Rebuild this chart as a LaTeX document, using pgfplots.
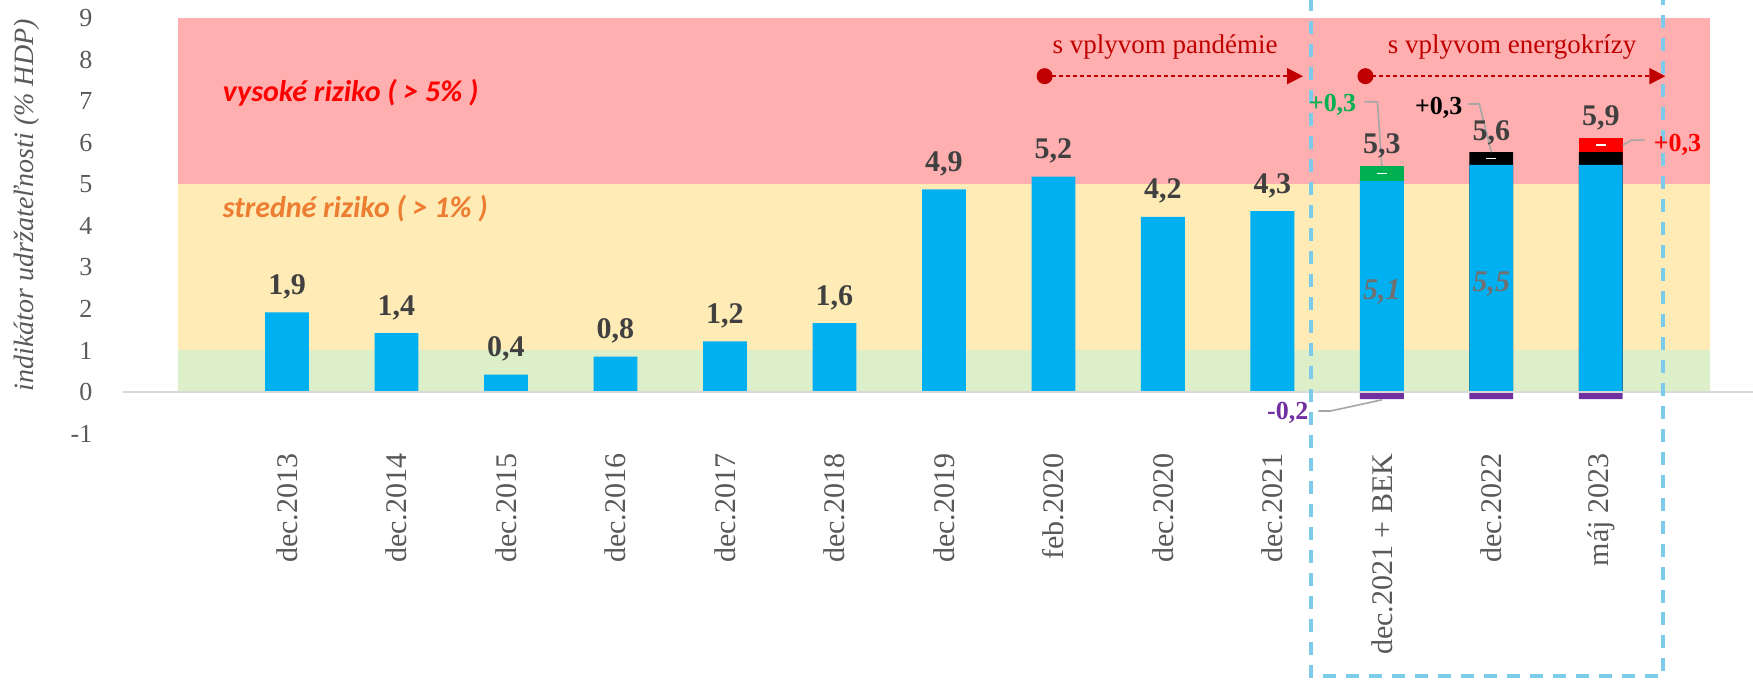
\documentclass[border=0pt]{standalone}
\usepackage{fontspec}
\setmainfont{Liberation Serif}
\newfontfamily\calibri{Carlito}
\usepackage{pgfplots}
\pgfplotsset{compat=1.18}
\usepackage{pgfplotstable}
\usetikzlibrary{arrows.meta}

\definecolor{bandred}{HTML}{FFAFAF}
\definecolor{bandyellow}{HTML}{FFEBB5}
\definecolor{bandgreen}{HTML}{DDEFC9}
\definecolor{barblue}{HTML}{00B0F0}
\definecolor{segpurple}{HTML}{7030A0}
\definecolor{seggreen}{HTML}{00B050}
\definecolor{segred}{HTML}{FF0000}
\definecolor{darkred}{HTML}{C00000}
\definecolor{lblgray}{HTML}{404040}
\definecolor{tickgray}{HTML}{595959}
\definecolor{innergray}{HTML}{707070}
\definecolor{boxblue}{HTML}{7CCBEB}
\definecolor{leadergray}{HTML}{A6A6A6}
\definecolor{orangetext}{HTML}{ED7D31}
\definecolor{zeroline}{HTML}{D9D9D9}

% blue base bars
\pgfplotstableread{
x y
0 1.92
1 1.42
2 0.42
3 0.85
4 1.22
5 1.66
6 4.88
7 5.19
8 4.22
9 4.36
10 5.08
11 5.47
12 5.47
}\bluebars

% labels above single bars
\pgfplotstableread{
x y label
0 1.92 1,9
1 1.42 1,4
2 0.42 0,4
3 0.85 0,8
4 1.22 1,2
5 1.66 1,6
6 4.88 4,9
7 5.19 5,2
8 4.22 4,2
9 4.36 4,3
}\labelsA

% totals of stacked bars
\pgfplotstableread{
x y label
10 5.45 5,3
11 5.78 5,6
12 6.12 5,9
}\labelsB

\begin{document}
\begin{tikzpicture}
\begin{axis}[
  scale only axis,
  width=815.2pt, height=207.5pt,
  xmin=-1.5, xmax=13.39, ymin=-1, ymax=9,
  axis x line*=bottom, axis y line*=left,
  axis line style={draw=none},
  tick style={draw=none},
  clip=false,
  /pgf/number format/assume math mode=true,
  xtick={0,...,12},
  xticklabels={dec.2013,dec.2014,dec.2015,dec.2016,dec.2017,dec.2018,dec.2019,feb.2020,dec.2020,dec.2021,{dec.2021 + BEK},dec.2022,máj 2023},
  xticklabel style={rotate=90, anchor=east, inner sep=0pt, text=tickgray, font=\fontsize{15}{18}\selectfont},
  xticklabel shift=10pt,
  ytick={-1,0,1,2,3,4,5,6,7,8,9},
  yticklabel style={anchor=east, inner sep=0pt, text=tickgray, font=\fontsize{13}{15}\selectfont},
  yticklabel shift=15pt,
  ylabel={indikátor udržateľnosti (\% HDP)},
  ylabel style={at={(axis description cs:-0.0589,0.55)}, anchor=center, text=tickgray, font=\itshape\fontsize{14}{16}\selectfont},
]
% risk bands
\addplot[fill=bandgreen, draw=none] coordinates {(-1,0) (13,0) (13,1) (-1,1)} -- cycle;
\addplot[fill=bandyellow, draw=none] coordinates {(-1,1) (13,1) (13,5) (-1,5)} -- cycle;
\addplot[fill=bandred, draw=none] coordinates {(-1,5) (13,5) (13,9) (-1,9)} -- cycle;

% stacked segments (drawn tallest first, covered by lower parts)
\addplot[ybar, bar width=0.4, bar shift=0pt, fill=segred, draw=none] coordinates {(12,6.12)};
\addplot[ybar, bar width=0.4, bar shift=0pt, fill=black, draw=none] coordinates {(11,5.78) (12,5.78)};
\addplot[ybar, bar width=0.4, bar shift=0pt, fill=seggreen, draw=none] coordinates {(10,5.45)};
\addplot[ybar, bar width=0.4, bar shift=0pt, fill=barblue, draw=none] table[x=x,y=y] {\bluebars};
\addplot[ybar, bar width=0.4, bar shift=0pt, fill=segpurple, draw=none] coordinates {(10,-0.17) (11,-0.17) (12,-0.17)};

% zero line
\addplot[zeroline, line width=1pt] coordinates {(-1.5,0) (13.39,0)};

% dashed highlight box
\draw[boxblue, line width=2pt, dash pattern=on 6.5pt off 5pt] (axis cs:9.35,9.5) -- (axis cs:9.35,-6.84) -- (axis cs:12.57,-6.84) -- (axis cs:12.57,9.5);

% value labels
\addplot[draw=none, nodes near coords, point meta=explicit symbolic,
  nodes near coords style={anchor=base, inner sep=0pt, yshift=9pt, text=lblgray, font=\bfseries\fontsize{15}{18}\selectfont}]
  table[x=x,y=y,meta=label] {\labelsA};
\addplot[draw=none, nodes near coords, point meta=explicit symbolic,
  nodes near coords style={anchor=base, inner sep=0pt, yshift=6pt, text=lblgray, font=\bfseries\fontsize{15}{18}\selectfont}]
  table[x=x,y=y,meta=label] {\labelsB};

% inner labels
\node[text=innergray, font=\bfseries\itshape\fontsize{15}{18}\selectfont] at (axis cs:10,2.41) {5,1};
\node[text=innergray, font=\bfseries\itshape\fontsize{15}{18}\selectfont] at (axis cs:11,2.6) {5,5};

% white dashes on segments
\draw[white, line width=0.7pt] (axis cs:10,5.27) ++(-2.5pt,0pt) -- ++(5pt,0pt);
\draw[white, line width=0.7pt] (axis cs:11,5.62) ++(-2.5pt,0pt) -- ++(5pt,0pt);
\draw[white, line width=0.7pt] (axis cs:12,5.95) ++(-2.5pt,0pt) -- ++(5pt,0pt);

% callouts
\draw[leadergray, line width=0.8pt] (axis cs:9.84,6.99) -- (axis cs:9.96,6.99) -- (axis cs:10.0,5.45);
\node[text=seggreen, font=\bfseries\fontsize{13}{15}\selectfont] at (axis cs:9.55,6.92) {+0,3};
\draw[leadergray, line width=0.8pt] (axis cs:10.79,6.94) -- (axis cs:10.89,6.94) -- (axis cs:11.0,5.78);
\node[text=black, font=\bfseries\fontsize{13}{15}\selectfont] at (axis cs:10.52,6.84) {+0,3};
\draw[leadergray, line width=0.8pt] (axis cs:12.2,5.95) -- (axis cs:12.28,6.07) -- (axis cs:12.40,6.07);
\node[text=segred, font=\bfseries\fontsize{13}{15}\selectfont] at (axis cs:12.70,5.95) {+0,3};
\draw[leadergray, line width=0.8pt] (axis cs:9.42,-0.46) -- (axis cs:9.53,-0.46) -- (axis cs:10.0,-0.19);
\node[text=segpurple, font=\bfseries\fontsize{13}{15}\selectfont] at (axis cs:9.14,-0.51) {-0,2};

% band texts
\node[anchor=west, text=segred, font=\calibri\bfseries\itshape\fontsize{15}{18}\selectfont] at (axis cs:-0.65,7.2) {vysoké riziko ( > 5\% )};
\node[anchor=west, text=orangetext, font=\calibri\bfseries\itshape\fontsize{15}{18}\selectfont] at (axis cs:-0.65,4.41) {stredné riziko ( > 1\% )};

% period arrows
\node[text=darkred, font=\fontsize{13.5}{16}\selectfont] at (axis cs:8.02,8.31) {s vplyvom pandémie};
\node[text=darkred, font=\fontsize{13.5}{16}\selectfont] at (axis cs:11.19,8.31) {s vplyvom energokrízy};
\draw[darkred, line width=0.8pt, dash pattern=on 2pt off 1.5pt, -{Triangle[length=8pt,width=8pt]}] (axis cs:6.92,7.61) -- (axis cs:9.28,7.61);
\fill[darkred] (axis cs:6.92,7.61) circle (4pt);
\draw[darkred, line width=0.8pt, dash pattern=on 2pt off 1.5pt, -{Triangle[length=8pt,width=8pt]}] (axis cs:9.85,7.61) -- (axis cs:12.59,7.61);
\fill[darkred] (axis cs:9.85,7.61) circle (4pt);
\end{axis}
\pgfresetboundingbox
\path[use as bounding box] (-61.4pt,-123.25pt) rectangle (815.2pt,216.75pt);
\end{tikzpicture}
\end{document}
